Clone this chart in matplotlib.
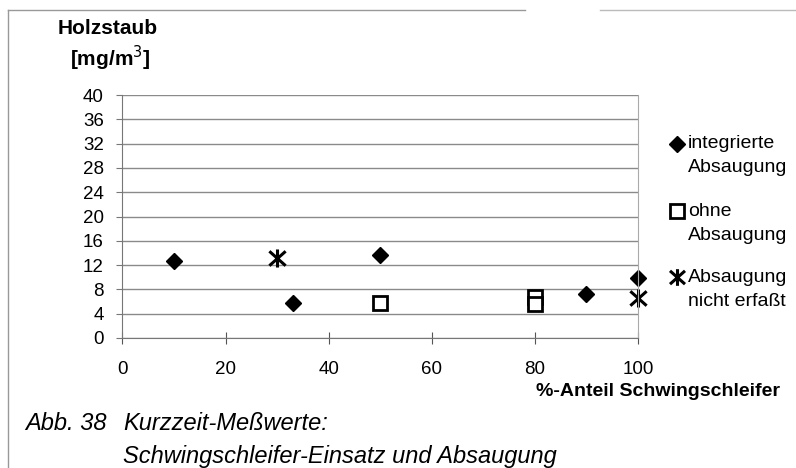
import matplotlib
matplotlib.use("Agg")
import matplotlib.pyplot as plt
from matplotlib.path import Path
from matplotlib.lines import Line2D

plt.rcParams['font.family'] = ['Liberation Sans', 'DejaVu Sans']

# Data
x_integriert = [10, 33, 50, 90, 100]
y_integriert = [12.6, 5.8, 13.7, 7.3, 9.8]
x_ohne = [50, 80, 80]
y_ohne = [5.7, 6.8, 5.6]
x_nicht = [30, 100]
y_nicht = [13.2, 6.6]

labels = ["integrierte\nAbsaugung", "ohne\nAbsaugung", "Absaugung\nnicht erfaßt"]
y_ticks = [0, 4, 8, 12, 16, 20, 24, 28, 32, 36, 40]
x_ticks = [0, 20, 40, 60, 80, 100]

star = Path([(0, -1), (0, 1), (-0.9, -0.8), (0.9, 0.8), (-0.9, 0.8), (0.9, -0.8)],
            [Path.MOVETO, Path.LINETO, Path.MOVETO, Path.LINETO, Path.MOVETO, Path.LINETO])

W, H = 796, 468
fig = plt.figure(figsize=(W/100, H/100), dpi=100)
L, R, T, B = 122.5, 638, 95, 338
ax = fig.add_axes([L/W, 1-B/H, (R-L)/W, (B-T)/H])

ax.set_xlim(0, 100)
ax.set_ylim(0, 40)
ax.set_yticks(y_ticks)
ax.set_xticks(x_ticks)
ax.yaxis.grid(True, color='#8a8a8a', lw=1.0)
ax.set_axisbelow(True)
ax.spines['top'].set_visible(False)
ax.spines['right'].set_color('#aaaaaa')
ax.spines['left'].set_color('#777777')
ax.spines['bottom'].set_color('#777777')
ax.tick_params(axis='y', length=4, color='#777777', labelsize=13.5, pad=9.5)
ax.tick_params(axis='x', direction='inout', length=8.6, color='#555555', labelsize=13.5, pad=12)

ms_kw = dict(linestyle='none', clip_on=False)
ax.plot(x_integriert, y_integriert, marker='D', markersize=8.5, color='black', **ms_kw)
ax.plot(x_ohne, y_ohne, marker='s', markersize=10, markerfacecolor='white',
        markeredgecolor='black', markeredgewidth=2, **ms_kw)
ax.plot(x_nicht, y_nicht, marker=star, markersize=13, color='black',
        markeredgewidth=2.2, **ms_kw)

# Axis titles
fig.text(58/W, 1-28/H, "Holzstaub", fontsize=15, fontweight='bold', va='center', ha='left')
fig.text(70/W, 1-58/H, "[mg/m$^3$]", fontsize=15, fontweight='bold', va='center', ha='left')
fig.text(780/W, 1-391/H, "%-Anteil Schwingschleifer", fontsize=14, fontweight='bold',
         va='center', ha='right')

# Legend
leg_items = [
    dict(marker='D', markersize=8, color='black'),
    dict(marker='s', markersize=10, markerfacecolor='white', markeredgecolor='black', markeredgewidth=2),
    dict(marker=star, markersize=12, color='black', markeredgewidth=2.2),
]
leg_y = [144, 211, 277]
for item, yy, lab in zip(leg_items, leg_y, labels):
    fig.add_artist(Line2D([677/W], [1-yy/H], transform=fig.transFigure, linestyle='none', **item))
    first, second = lab.split("\n")
    fig.text(688/W, 1-yy/H, first, fontsize=14, va='center', ha='left')
    fig.text(688/W, 1-(yy+24)/H, second, fontsize=14, va='center', ha='left')

# Caption
fig.text(25/W, 1-424/H, "Abb. 38", fontsize=17, fontstyle='italic', va='center', ha='left')
fig.text(123/W, 1-424/H, "Kurzzeit-Meßwerte:", fontsize=17, fontstyle='italic', va='center', ha='left')
fig.text(123/W, 1-456/H, "Schwingschleifer-Einsatz und Absaugung", fontsize=17,
         fontstyle='italic', va='center', ha='left')

# Frame lines
fig.add_artist(Line2D([8/W, 525/W], [1-10/H, 1-10/H], transform=fig.transFigure, color='#999999', lw=1))
fig.add_artist(Line2D([600/W, 1], [1-10/H, 1-10/H], transform=fig.transFigure, color='#bbbbbb', lw=1))
fig.add_artist(Line2D([8/W, 8/W], [1-10/H, 0], transform=fig.transFigure, color='#999999', lw=1))

fig.savefig("out.png", dpi=100)
